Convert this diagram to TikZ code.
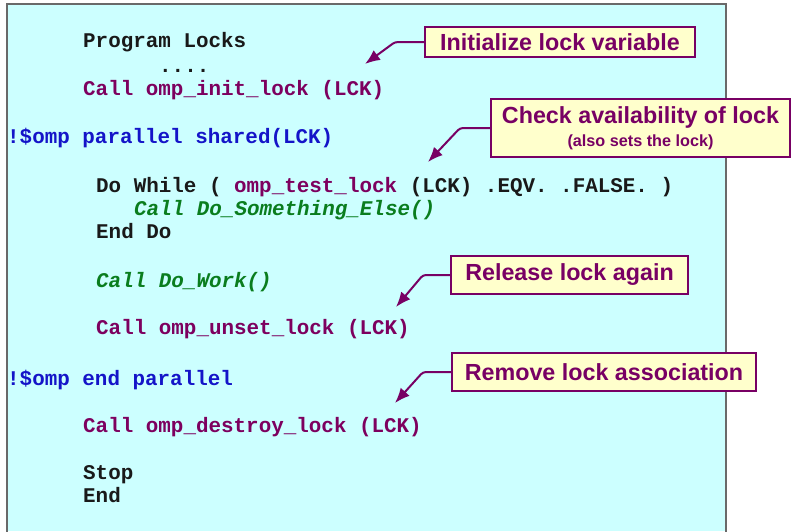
\documentclass[tikz,border=0pt]{standalone}
\usepackage{fontspec}
\setmainfont{Liberation Sans}
\setmonofont{Liberation Mono}
\usepackage{tikz}
\usetikzlibrary{arrows.meta, positioning, calc}
\definecolor{panelcyan}{RGB}{204, 255, 255}
\definecolor{panelgray}{RGB}{105, 105, 105}
\definecolor{tagyellow}{RGB}{255, 255, 204}
\definecolor{tagpurple}{RGB}{120, 0, 100}
\definecolor{codeblack}{RGB}{25, 25, 25}
\definecolor{codepurple}{RGB}{125, 0, 95}
\definecolor{codeblue}{RGB}{20, 20, 200}
\definecolor{codegreen}{RGB}{10, 125, 30}
\tikzset{
  codeline/.style={anchor=base west, inner sep=0pt, text=codeblack,
    font=\fontsize{20.9}{23}\selectfont\ttfamily\bfseries\frenchspacing},
  tagbox/.style={draw=tagpurple, line width=1.5pt, fill=tagyellow, text=tagpurple,
    inner sep=0pt, align=center, font=\fontsize{23.3}{26}\selectfont\bfseries},
  tagarrow/.style={draw=tagpurple, line width=2pt, rounded corners=3pt,
    -{Latex[length=15pt, width=12pt]}}
}

\begin{document}
\begin{tikzpicture}[x=1pt, y=-1pt]
  \useasboundingbox (0,0) rectangle (791,531);

  % background panel, open at the bottom
  \fill[panelcyan] (7,4) rectangle (726,531);
  \draw[panelgray, line width=2pt] (7,535) -- (7,4) -- (726,4) -- (726,535);

  % the program
  \node[codeline] (prog) at (83,47) {Program Locks};
  \node[codeline] (dots) at (159,72) {....};
  \node[codeline, text=codepurple] (init) at (83,95) {Call omp\_init\_lock (LCK)};
  \node[codeline, text=codeblue] (par) at (7,143) {!\$omp parallel shared(LCK)};
  \node[codeline] (dowhile) at (96,192)
    {Do While ( \textcolor{codepurple}{omp\_test\_lock} (LCK) .EQV. .FALSE. )};
  \node[codeline, text=codegreen, font=\fontsize{20.9}{23}\selectfont\ttfamily\bfseries\itshape]
    (else) at (134,215) {Call Do\_Something\_Else()};
  \node[codeline] (enddo) at (96,238) {End Do};
  \node[codeline, text=codegreen, font=\fontsize{20.9}{23}\selectfont\ttfamily\bfseries\itshape]
    (work) at (96,287) {Call Do\_Work()};
  \node[codeline, text=codepurple] (unset) at (96,334) {Call omp\_unset\_lock (LCK)};
  \node[codeline, text=codeblue] (endpar) at (7,385) {!\$omp end parallel};
  \node[codeline, text=codepurple] (destroy) at (83,432) {Call omp\_destroy\_lock (LCK)};
  \node[codeline] (stop) at (83,479) {Stop};
  \node[codeline] (end) at (83,502) {End};

  % callouts
  \node[tagbox, minimum width=270pt, minimum height=30pt] (tinit) at (560,42)
    {Initialize lock variable};
  \node[tagbox, minimum width=299pt, minimum height=58pt] (ttest) at (640.5,128)
    {Check availability of lock\\[-3pt]{\fontsize{16.2}{18}\selectfont (also sets the lock)}};
  \node[tagbox, minimum width=237pt, minimum height=38pt] (tunset) at (569.5,275)
    {Release lock again};
  \node[tagbox, minimum width=304pt, minimum height=38pt] (tdestroy) at (604,372)
    {Remove lock association};

  \coordinate (initbend) at (395,42);
  \coordinate (inittip) at (365,64);
  \coordinate (testbend) at (460,128);
  \coordinate (testtip) at (428,162);
  \coordinate (unsetbend) at (423,275);
  \coordinate (unsettip) at (396,307);
  \coordinate (destroybend) at (423,372);
  \coordinate (destroytip) at (395,403);

  \draw[tagarrow] (tinit.west) -- (initbend) -- (inittip);
  \draw[tagarrow] (ttest.west) -- (testbend) -- (testtip);
  \draw[tagarrow] (tunset.west) -- (unsetbend) -- (unsettip);
  \draw[tagarrow] (tdestroy.west) -- (destroybend) -- (destroytip);
\end{tikzpicture}
\end{document}
